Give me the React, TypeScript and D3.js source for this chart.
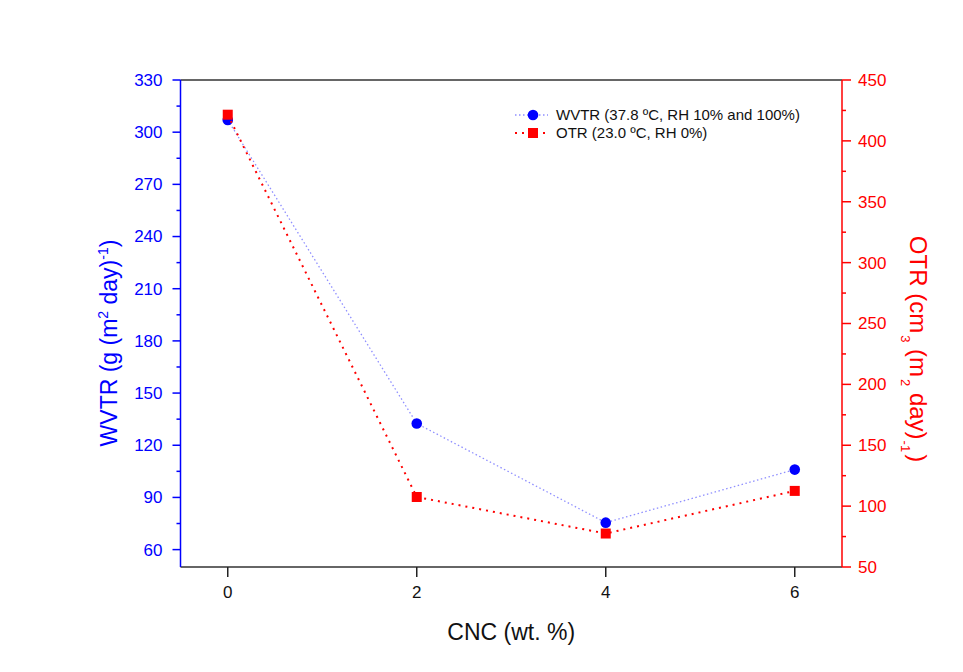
import React from "react";
import * as d3 from "d3";

const CNC = [0, 2, 4, 6];
const WVTR = [307, 132.5, 75.5, 106];
const OTR = [421.5, 107.5, 77.5, 112.5];
const X_TICKS = [0, 2, 4, 6];
const LEFT_TICKS = [60, 90, 120, 150, 180, 210, 240, 270, 300, 330];
const LEFT_MINOR = [75, 105, 135, 165, 195, 225, 255, 285, 315];
const RIGHT_TICKS = [50, 100, 150, 200, 250, 300, 350, 400, 450];
const RIGHT_MINOR = [75, 125, 175, 225, 275, 325, 375, 425];

const FONT = "'Liberation Sans', Arial, sans-serif";
const BLUE = "#0000ff";
const RED = "#ff0000";

export default function App() {
  const L = 180.5, R = 842, T = 80, B = 567;
  const x = d3.scaleLinear().domain([-0.5, 6.5]).range([L, R]);
  const yL = d3.scaleLinear().domain([50, 330]).range([B, T]);
  const yR = d3.scaleLinear().domain([50, 450]).range([B, T]);

  const wvtrPts: [number, number][] = CNC.map((c, i) => [x(c), yL(WVTR[i])]);
  const otrPts: [number, number][] = CNC.map((c, i) => [x(c), yR(OTR[i])]);
  const line = d3.line();

  return (
    <svg width={963} height={672} style={{ position: "absolute", left: 0, top: 0, background: "#fff" }} fontFamily={FONT}>
      <rect x={0} y={0} width={963} height={672} fill="#fff" />
      {/* frame */}
      <line x1={L} x2={R} y1={T} y2={T} stroke="#333" strokeWidth={1.5} />
      <line x1={L} x2={R} y1={B} y2={B} stroke="#333" strokeWidth={1.5} />
      <line x1={L} x2={L} y1={T} y2={B} stroke={BLUE} strokeWidth={1.5} />
      <line x1={R} x2={R} y1={T} y2={B} stroke={RED} strokeWidth={1.5} />

      {/* x ticks */}
      {X_TICKS.map((t) => (
        <g key={"x" + t}>
          <line x1={x(t)} x2={x(t)} y1={B} y2={B + 10} stroke="#222" strokeWidth={1.5} />
          <text x={x(t)} y={B + 31} textAnchor="middle" fontSize={17} fill="#111">{t}</text>
        </g>
      ))}
      <text x={(L + R) / 2} y={640} textAnchor="middle" fontSize={23} fill="#111">CNC (wt. %)</text>

      {/* left ticks */}
      {LEFT_TICKS.map((t) => (
        <g key={"l" + t}>
          <line x1={L - 8} x2={L} y1={yL(t)} y2={yL(t)} stroke={BLUE} strokeWidth={1.5} />
          <text x={L - 18} y={yL(t)} dy="0.35em" textAnchor="end" fontSize={17} fill={BLUE}>{t}</text>
        </g>
      ))}
      {LEFT_MINOR.map((t) => (
        <line key={"lm" + t} x1={L - 4} x2={L} y1={yL(t)} y2={yL(t)} stroke={BLUE} strokeWidth={1.5} />
      ))}
      <text transform="translate(117,343) rotate(-90)" textAnchor="middle" fontSize={23} fill={BLUE}>
        WVTR (g (m<tspan fontSize={14} dy={-9}>2</tspan><tspan dy={9}> day)</tspan><tspan fontSize={14} dy={-9}>-1</tspan><tspan dy={9}>)</tspan>
      </text>

      {/* right ticks */}
      {RIGHT_TICKS.map((t) => (
        <g key={"r" + t}>
          <line x1={R} x2={R + 9} y1={yR(t)} y2={yR(t)} stroke={RED} strokeWidth={1.5} />
          <text x={R + 16} y={yR(t)} dy="0.35em" textAnchor="start" fontSize={17} fill={RED}>{t}</text>
        </g>
      ))}
      {RIGHT_MINOR.map((t) => (
        <line key={"rm" + t} x1={R} x2={R + 4} y1={yR(t)} y2={yR(t)} stroke={RED} strokeWidth={1.5} />
      ))}
      <text transform="translate(910,349) rotate(90)" textAnchor="middle" fontSize={24} fill={RED}>
        OTR (cm<tspan fontSize={13} dx={2} dy={9}>3</tspan><tspan dy={-9}> (m</tspan><tspan fontSize={13} dx={2} dy={9}>2</tspan><tspan dy={-9}> day)</tspan><tspan fontSize={13} dx={1} dy={9}>-1</tspan><tspan dx={2} dy={-9}>)</tspan>
      </text>

      {/* series */}
      <path d={line(wvtrPts) || ""} fill="none" stroke="#8f8fff" strokeWidth={1.3} strokeDasharray="1.5,2.5" />
      {wvtrPts.map((p, i) => (
        <circle key={"w" + i} cx={p[0]} cy={p[1]} r={5.3} fill={BLUE} />
      ))}
      <path d={line(otrPts) || ""} fill="none" stroke={RED} strokeWidth={2} strokeDasharray="2,5" />
      {otrPts.map((p, i) => (
        <rect key={"o" + i} x={p[0] - 5} y={p[1] - 5} width={10} height={10} fill={RED} />
      ))}

      {/* legend */}
      <line x1={515} x2={548} y1={115} y2={115} stroke="#8f8fff" strokeWidth={1.3} strokeDasharray="1.5,2.5" />
      <circle cx={533} cy={115} r={5.3} fill={BLUE} />
      <text x={556} y={115} dy="0.35em" fontSize={15} fill="#111">WVTR (37.8 ºC, RH 10% and 100%)</text>
      <line x1={515} x2={548} y1={133} y2={133} stroke={RED} strokeWidth={2} strokeDasharray="2,5" />
      <rect x={528} y={128} width={10} height={10} fill={RED} />
      <text x={556} y={133} dy="0.35em" fontSize={15} fill="#111">OTR (23.0 ºC, RH 0%)</text>
    </svg>
  );
}
